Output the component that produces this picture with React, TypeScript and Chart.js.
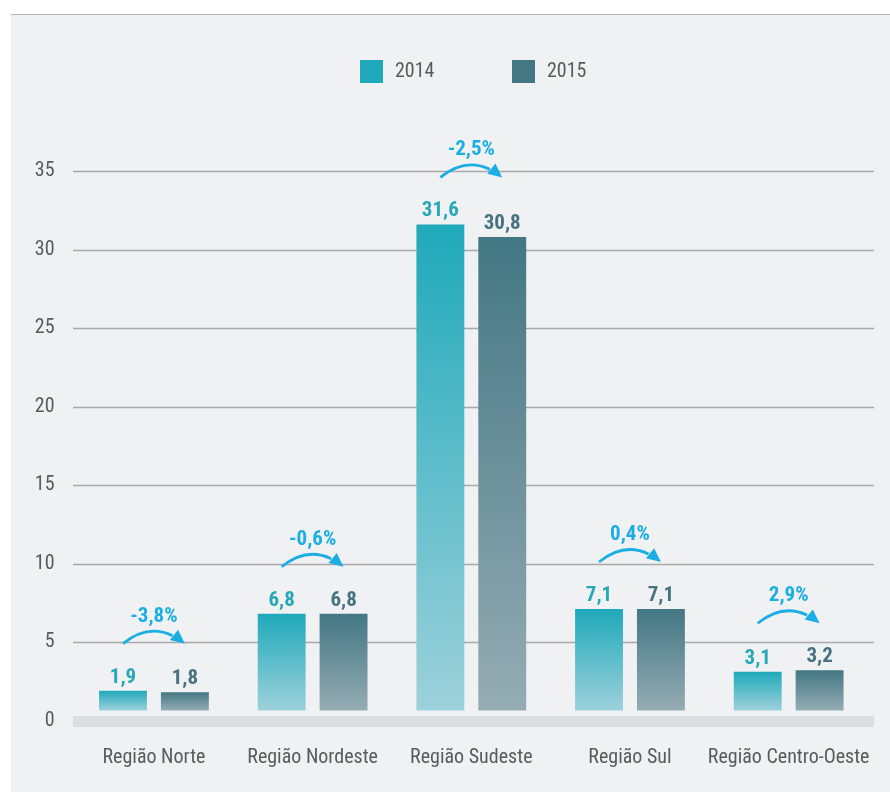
import React, { useEffect, useRef } from 'react';
import { Chart, registerables } from 'chart.js';

Chart.register(...registerables);

const categories = ['Região Norte', 'Região Nordeste', 'Região Sudeste', 'Região Sul', 'Região Centro-Oeste'];
const seriesNames = ['2014', '2015'];
const values2014 = [1.9, 6.8, 31.6, 7.1, 3.1];
const values2015 = [1.8, 6.8, 30.8, 7.1, 3.2];
const changeLabels = ['-3,8%', '-0,6%', '-2,5%', '0,4%', '2,9%'];
const yTickValues = [0, 5, 10, 15, 20, 25, 30, 35];

const FONT = "'Roboto Condensed', Roboto, sans-serif";
const BG = '#f0f1f3';
const TEXT = '#5a5a5a';
const COL14_TOP = '#1fa9ba';
const COL14_BOT = '#9dd1db';
const COL15_TOP = '#437784';
const COL15_BOT = '#95acb4';
const LBL14 = '#27a8b7';
const LBL15 = '#46737f';
const PCT = '#1aaee5';

const fmt = (v: number) => v.toFixed(1).replace('.', ',');

function gradientFor(top: string, bottom: string) {
  return (ctx: any) => {
    const chart = ctx.chart;
    if (!chart.chartArea || ctx.type !== 'data') return top;
    const ys = chart.scales.y;
    const t = ys.getPixelForValue(ctx.raw as number);
    const b = ys.getPixelForValue(0) - 10;
    const g = chart.ctx.createLinearGradient(0, t, 0, b);
    g.addColorStop(0, top);
    g.addColorStop(1, bottom);
    return g;
  };
}

const decorPlugin = {
  id: 'decor',
  beforeDatasetsDraw(chart: any) {
    const { ctx, chartArea, scales } = chart;
    const ys = scales.y;
    ctx.save();
    ctx.strokeStyle = '#a9a9a9';
    ctx.lineWidth = 1.3;
    yTickValues.forEach((v) => {
      if (v === 0) return;
      const y = Math.round(ys.getPixelForValue(v)) + 0.5;
      ctx.beginPath();
      ctx.moveTo(chartArea.left - 1.6, y);
      ctx.lineTo(chartArea.right + 6, y);
      ctx.stroke();
    });
    ctx.restore();
  },
  afterDatasetsDraw(chart: any) {
    const { ctx, chartArea, scales } = chart;
    const ys = scales.y;
    const y0 = ys.getPixelForValue(0);
    ctx.save();
    // strip + zero band
    ctx.fillStyle = BG;
    ctx.fillRect(chartArea.left - 1.6, y0 - 10, chartArea.right - chartArea.left + 8, 5.5);
    ctx.fillStyle = '#dcdddf';
    ctx.fillRect(chartArea.left - 1.6, y0 - 4.5, chartArea.right - chartArea.left + 7.6, 11);

    const m0 = chart.getDatasetMeta(0).data;
    const m1 = chart.getDatasetMeta(1).data;
    ctx.textAlign = 'center';
    ctx.textBaseline = 'alphabetic';
    for (let i = 0; i < categories.length; i++) {
      const a = m0[i];
      const b = m1[i];
      ctx.font = `bold 21px ${FONT}`;
      ctx.fillStyle = LBL14;
      ctx.fillText(fmt(values2014[i]), a.x, a.y - 8);
      ctx.fillStyle = LBL15;
      ctx.fillText(fmt(values2015[i]), b.x, b.y - 8);

      const topY = Math.min(a.y, b.y);
      const yb = topY - 47;
      const x1 = a.x;
      const x2 = b.x;
      const mid = (x1 + x2) / 2;
      const cx = mid;
      const cy = yb - 25;
      const q = (t: number) => ({
        x: (1 - t) * (1 - t) * x1 + 2 * (1 - t) * t * cx + t * t * x2,
        y: (1 - t) * (1 - t) * yb + 2 * (1 - t) * t * cy + t * t * yb,
      });
      const tEnd = 0.8;
      const pEnd = q(tEnd);
      const c1x = x1 + tEnd * (cx - x1);
      const c1y = yb + tEnd * (cy - yb);
      ctx.strokeStyle = PCT;
      ctx.lineWidth = 2.8;
      ctx.beginPath();
      ctx.moveTo(x1, yb);
      ctx.quadraticCurveTo(c1x, c1y, pEnd.x, pEnd.y);
      ctx.stroke();
      // arrow head
      const dx = x2 - cx;
      const dy = yb - cy;
      const len = Math.hypot(dx, dy);
      const ux = dx / len;
      const uy = dy / len;
      const hl = 14;
      const hw = 6.5;
      const bx = x2 - ux * hl;
      const by = yb - uy * hl;
      ctx.fillStyle = PCT;
      ctx.beginPath();
      ctx.moveTo(x2, yb);
      ctx.lineTo(bx - uy * hw, by + ux * hw);
      ctx.lineTo(bx + uy * hw, by - ux * hw);
      ctx.closePath();
      ctx.fill();

      ctx.font = `bold 21px ${FONT}`;
      ctx.fillStyle = PCT;
      ctx.fillText(changeLabels[i], mid, topY - 69);
    }
    ctx.restore();
  },
  afterDraw(chart: any) {
    const { ctx } = chart;
    ctx.save();
    const items = [
      { x: 349, color: COL14_TOP, label: seriesNames[0] },
      { x: 501, color: COL15_TOP, label: seriesNames[1] },
    ];
    ctx.font = `20px ${FONT}`;
    ctx.textAlign = 'left';
    ctx.textBaseline = 'middle';
    items.forEach((it) => {
      ctx.fillStyle = it.color;
      ctx.fillRect(it.x, 45, 23, 23);
      ctx.fillStyle = TEXT;
      ctx.fillText(it.label, it.x + 35, 57);
    });
    ctx.restore();
  },
};

export default function App() {
  const ref = useRef<HTMLCanvasElement>(null);
  useEffect(() => {
    if (!ref.current) return;
    const chart = new Chart(ref.current, {
      type: 'bar',
      data: {
        labels: categories,
        datasets: [
          {
            label: seriesNames[0],
            data: values2014,
            backgroundColor: gradientFor(COL14_TOP, COL14_BOT),
            borderWidth: 0,
            categoryPercentage: 0.78,
            barPercentage: 0.774,
          },
          {
            label: seriesNames[1],
            data: values2015,
            backgroundColor: gradientFor(COL15_TOP, COL15_BOT),
            borderWidth: 0,
            categoryPercentage: 0.78,
            barPercentage: 0.774,
          },
        ],
      },
      options: {
        responsive: false,
        animation: false,
        layout: { padding: { top: 156, right: 22, left: 0, bottom: 0 } },
        plugins: {
          legend: { display: false },
          tooltip: { enabled: false },
        },
        scales: {
          x: {
            grid: { display: false, drawTicks: false },
            border: { display: false },
            ticks: {
              color: TEXT,
              font: { family: FONT, size: 20 },
              padding: 25,
              maxRotation: 0,
              autoSkip: false,
            },
            afterFit: (s: any) => {
              s.height = 71.5;
              s.paddingLeft = 0;
              s.paddingRight = 0;
            },
          },
          y: {
            min: 0,
            max: 35,
            grid: { display: false, drawTicks: false },
            border: { display: false },
            ticks: {
              stepSize: 5,
              color: TEXT,
              font: { family: FONT, size: 20 },
              padding: 20,
            },
            afterFit: (s: any) => {
              s.width = 63.6;
              s.paddingTop = 0;
              s.paddingBottom = 0;
            },
          },
        },
      },
      plugins: [decorPlugin],
    });
    return () => chart.destroy();
  }, []);

  return (
    <div style={{ position: 'fixed', left: 0, top: 0, width: 890, height: 792, background: '#fff' }}>
      <div style={{ position: 'absolute', left: 11, top: 13.5, width: 879, height: 1.5, background: '#b5b5b5' }} />
      <div style={{ position: 'absolute', left: 11, top: 15, width: 879, height: 777, background: BG }}>
        <canvas ref={ref} width={879} height={777} style={{ display: 'block' }} />
      </div>
    </div>
  );
}
